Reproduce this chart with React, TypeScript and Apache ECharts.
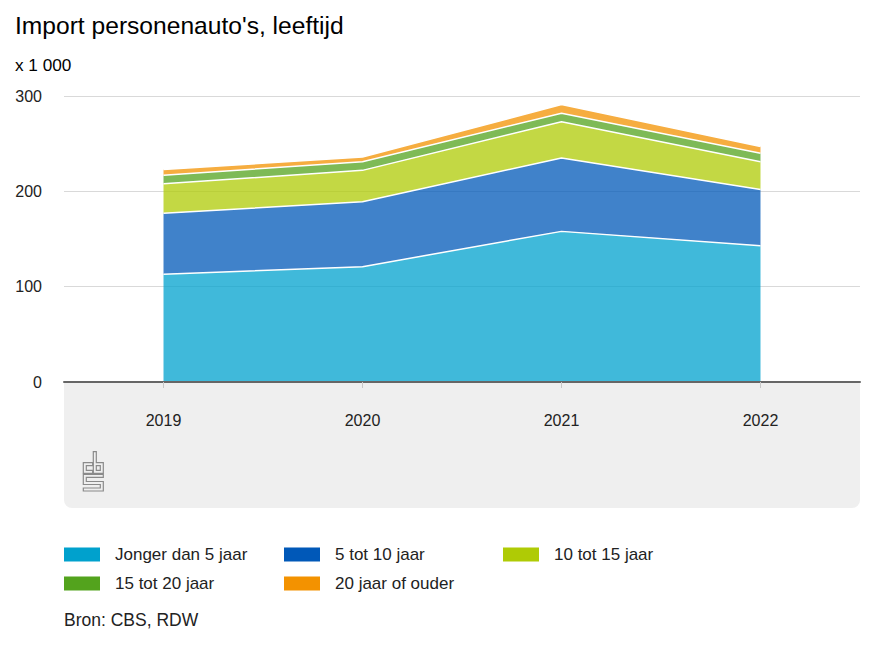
import React, { useEffect, useRef } from "react";
import * as echarts from "echarts";

const years = ["2019", "2020", "2021", "2022"];
const seriesNames = ["Jonger dan 5 jaar", "5 tot 10 jaar", "10 tot 15 jaar", "15 tot 20 jaar", "20 jaar of ouder"];
const jongerDan5 = [113, 121, 158, 143];
const vijfTot10 = [64, 68, 77, 59];
const tienTot15 = [31, 33, 38, 29];
const vijftienTot20 = [9, 9, 9, 9];
const twintigPlus = [6, 5, 9, 7];
const yTicks = [0, 100, 200, 300];
const colors = ["#00a1cd", "#0058b8", "#afcb05", "#53a31d", "#f39200"];

const values = [jongerDan5, vijfTot10, tienTot15, vijftienTot20, twintigPlus];
const legendPos = [
  [64, 546],
  [284, 546],
  [503, 546],
  [64, 575],
  [284, 575],
];

export default function App() {
  const ref = useRef<HTMLDivElement>(null);
  useEffect(() => {
    document.body.style.margin = "0";
    const chart = echarts.init(ref.current!, null, { renderer: "svg" });
    const font = "Liberation Sans, Arial, sans-serif";
    const logoStroke = { stroke: "#8a8a8a", lineWidth: 1.2, fill: "none" };
    chart.setOption({
      animation: false,
      textStyle: { fontFamily: font },
      title: [
        {
          text: "Import personenauto's, leeftijd",
          left: 15,
          top: 13,
          padding: 0,
          textStyle: { fontSize: 24.6, fontWeight: "normal", color: "#000", fontFamily: font },
        },
        {
          text: "x 1 000",
          left: 15,
          top: 56,
          padding: 0,
          textStyle: { fontSize: 17.2, fontWeight: "normal", color: "#000", fontFamily: font },
        },
        {
          text: "Bron: CBS, RDW",
          left: 64,
          top: 611,
          padding: 0,
          textStyle: { fontSize: 17.5, fontWeight: "normal", color: "#222", fontFamily: font },
        },
      ],
      legend: seriesNames.map((n, i) => ({
        left: legendPos[i][0],
        top: legendPos[i][1],
        padding: 0,
        icon: "rect",
        itemWidth: 36,
        itemHeight: 14,
        selectedMode: false,
        textStyle: { fontSize: 17, color: "#222", fontFamily: font, padding: [0, 0, 0, 10] },
        data: [{ name: n, itemStyle: { color: colors[i], opacity: 1, borderWidth: 0 } }],
      })),
      grid: { left: 64, right: 14, top: 96, bottom: 274 },
      xAxis: {
        type: "category",
        data: years,
        boundaryGap: true,
        axisLine: { show: true, lineStyle: { color: "#666", width: 2 } },
        axisTick: { show: true, alignWithLabel: true, length: 6, lineStyle: { color: "#c8c8c8" } },
        axisLabel: { fontSize: 16, color: "#222", margin: 30, fontFamily: font },
        z: 5,
      },
      yAxis: {
        type: "value",
        min: yTicks[0],
        max: yTicks[yTicks.length - 1],
        interval: 100,
        axisLine: { show: false },
        axisTick: { show: false },
        axisLabel: { fontSize: 16, color: "#222", margin: 22, fontFamily: font },
        splitLine: { lineStyle: { color: "#d9d9d9", width: 1 } },
      },
      graphic: [
        {
          type: "rect",
          z: -1,
          shape: { x: 64, y: 383, width: 796, height: 125, r: [0, 0, 8, 8] },
          style: { fill: "#efefef" },
        },
        {
          type: "group",
          z: 1,
          children: [
            {
              type: "polygon",
              shape: { points: [[92.7, 462.7], [83.3, 462.7], [83.3, 473.3], [92.7, 473.3], [92.7, 470.3], [86.3, 470.3], [86.3, 465.7], [92.7, 465.7]] },
              style: logoStroke,
            },
            {
              type: "polygon",
              shape: { points: [[93.3, 451.7], [96.3, 451.7], [96.3, 462.7], [103.3, 462.7], [103.3, 473.3], [93.3, 473.3]] },
              style: logoStroke,
            },
            {
              type: "polygon",
              shape: { points: [[96.3, 465.7], [100.3, 465.7], [100.3, 470.3], [96.3, 470.3]] },
              style: logoStroke,
            },
            {
              type: "polygon",
              shape: {
                points: [[103.3, 474.3], [83.3, 474.3], [83.3, 484.5], [100.3, 484.5], [100.3, 488], [83.3, 488], [83.3, 491], [103.3, 491], [103.3, 481.5], [86.3, 481.5], [86.3, 477.3], [103.3, 477.3]],
              },
              style: logoStroke,
            },
          ],
        },
      ],
      series: seriesNames.map((n, i) => ({
        name: n,
        type: "line",
        stack: "total",
        data: values[i],
        symbol: "none",
        itemStyle: { color: colors[i] },
        lineStyle: { color: "#fff", width: 1.5 },
        areaStyle: { color: colors[i], opacity: 0.75 },
        z: 2,
      })),
    });
    return () => chart.dispose();
  }, []);
  return <div ref={ref} style={{ width: 874, height: 656 }} />;
}
